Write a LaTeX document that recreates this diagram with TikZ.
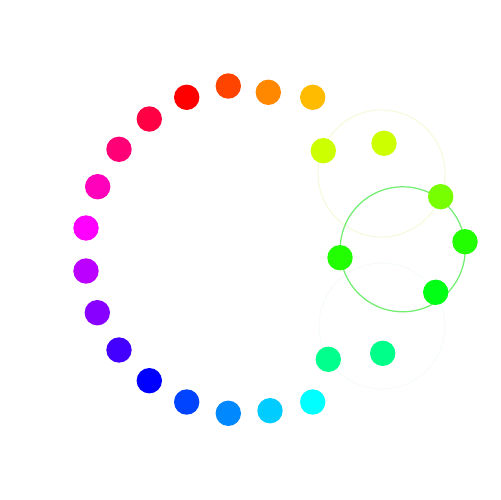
\documentclass[tikz,border=0pt]{standalone}
\definecolor{cA}{HTML}{FF0000}
\definecolor{cB}{HTML}{FF4400}
\definecolor{cC}{HTML}{FF8800}
\definecolor{cD}{HTML}{FFBB00}
\definecolor{cE}{HTML}{CCFF00}
\definecolor{cF}{HTML}{CCFF00}
\definecolor{cG}{HTML}{77FF00}
\definecolor{cH}{HTML}{22FF00}
\definecolor{cI}{HTML}{22FF00}
\definecolor{cJ}{HTML}{00FF14}
\definecolor{cK}{HTML}{00FF88}
\definecolor{cL}{HTML}{00FF8C}
\definecolor{cM}{HTML}{00FFFF}
\definecolor{cN}{HTML}{00CCFF}
\definecolor{cO}{HTML}{0088FF}
\definecolor{cP}{HTML}{0044FF}
\definecolor{cQ}{HTML}{0000FF}
\definecolor{cR}{HTML}{4400FF}
\definecolor{cS}{HTML}{8800FF}
\definecolor{cT}{HTML}{BB00FF}
\definecolor{cU}{HTML}{FF00FF}
\definecolor{cV}{HTML}{FF00BB}
\definecolor{cW}{HTML}{FF0077}
\definecolor{cX}{HTML}{FF0044}
\definecolor{ringY}{HTML}{F4FAD6}
\definecolor{ringC}{HTML}{F5FCF8}
\definecolor{ringG}{HTML}{70EE70}
\begin{document}
\begin{tikzpicture}[x=0.02cm,y=-0.02cm,
  dot/.style={circle,inner sep=0pt,minimum size=0.508cm,fill=#1},
  ring/.style={circle,inner sep=0pt,minimum size=#1,draw}]
\useasboundingbox[fill=white] (0,0) rectangle (500,500);
% guide circles
\node[ring=2.54cm,draw=ringY,line width=0.5pt] (cy) at (381.5,173.5) {};
\node[ring=2.52cm,draw=ringC,line width=0.5pt] (cc) at (382,326) {};
\node[ring=2.5cm,draw=ringG,line width=0.7pt] (cg) at (402.7,249.3) {};
% ring of dots
\node[dot=cA] (d1)  at (186.7,97.3) {};
\node[dot=cB] (d2)  at (228.3,86) {};
\node[dot=cC] (d3)  at (268.3,92.3) {};
\node[dot=cD] (d4)  at (312.7,97.3) {};
\node[dot=cE] (d5)  at (323.3,150.7) {};
\node[dot=cF] (d6)  at (384,143.3) {};
\node[dot=cG] (d7)  at (440.7,196.7) {};
\node[dot=cH] (d8)  at (465,241.7) {};
\node[dot=cI] (d9)  at (340,257.7) {};
\node[dot=cJ] (d10) at (435.7,292.3) {};
\node[dot=cK] (d11) at (382.7,353.3) {};
\node[dot=cL] (d12) at (328.3,359.3) {};
\node[dot=cM] (d13) at (312.7,402) {};
\node[dot=cN] (d14) at (270,410.7) {};
\node[dot=cO] (d15) at (228.3,413.3) {};
\node[dot=cP] (d16) at (186.7,402) {};
\node[dot=cQ] (d17) at (149.3,380.7) {};
\node[dot=cR] (d18) at (119,350) {};
\node[dot=cS] (d19) at (97.3,312.7) {};
\node[dot=cT] (d20) at (86,271) {};
\node[dot=cU] (d21) at (86,228) {};
\node[dot=cV] (d22) at (97.7,186.7) {};
\node[dot=cW] (d23) at (119,149.3) {};
\node[dot=cX] (d24) at (149.3,119) {};
\end{tikzpicture}
\end{document}
